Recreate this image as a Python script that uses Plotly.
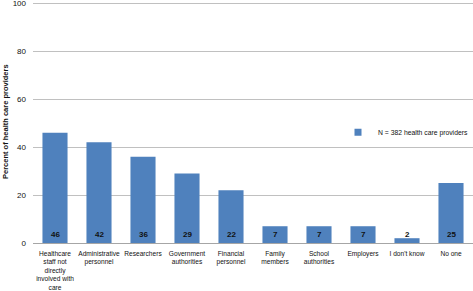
import plotly.graph_objects as go

categories = [
    "Healthcare<br>staff not<br>directly<br>involved with<br>care",
    "Administrative<br>personnel",
    "Researchers",
    "Government<br>authorities",
    "Financial<br>personnel",
    "Family<br>members",
    "School<br>authorities",
    "Employers",
    "I don't know",
    "No one",
]
values = [46, 42, 36, 29, 22, 7, 7, 7, 2, 25]
series_name = "N = 382 health care providers"
y_title = "Percent of health care providers"
y_ticks = [0, 20, 40, 60, 80, 100]

bar_color = "#4F81BD"
text_color = "#111111"
font_family = "Liberation Sans, Arial, sans-serif"

fig = go.Figure()
fig.add_trace(go.Bar(
    x=categories, y=values, name=series_name,
    marker=dict(color=bar_color, line=dict(width=0)),
    width=0.57, showlegend=False,
))
# legend entry (small square marker like the reference)
fig.add_trace(go.Scatter(
    x=[None], y=[None], mode="markers", name=series_name,
    marker=dict(symbol="square", size=7, color=bar_color),
    showlegend=True,
))

for c, v in zip(categories, values):
    fig.add_annotation(
        x=c, y=0, text=f"<b>{v}</b>", showarrow=False,
        yanchor="bottom", yshift=2,
        font=dict(size=8, color=text_color, family=font_family),
    )

# y-axis title as a rotated annotation placed at the far left
fig.add_annotation(
    xref="paper", yref="paper", x=0, y=0.5, xshift=-28,
    text=f"<b>{y_title}</b>", textangle=-90, showarrow=False,
    xanchor="center", yanchor="middle",
    font=dict(size=7.5, color=text_color, family=font_family),
)

fig.update_layout(
    width=473, height=291,
    margin=dict(l=33, r=0, t=1, b=48, autoexpand=False),
    paper_bgcolor="white", plot_bgcolor="white",
    font=dict(family=font_family, color=text_color),
    bargap=0.43,
    legend=dict(
        x=1.0, y=0.458, xanchor="right", yanchor="middle",
        font=dict(size=6.8, color=text_color),
        bgcolor="rgba(255,255,255,0)",
        itemwidth=30,
    ),
    yaxis=dict(
        range=[0, 101], tickvals=y_ticks,
        showgrid=True, gridcolor="#c0c0c0", gridwidth=1,
        zeroline=True, zerolinecolor="#a6a6a6", zerolinewidth=1,
        tickfont=dict(size=8, color=text_color),
        ticks="", ticklen=0, ticklabelstandoff=6,
        ticklabeloverflow="allow",
        automargin=False,
        fixedrange=True,
    ),
    xaxis=dict(
        tickfont=dict(size=6.6, color=text_color),
        showline=False, ticks="", tickangle=0,
        ticklabelstandoff=5,
        automargin=False,
        fixedrange=True,
    ),
)

fig.write_html(
    "out.html",
    config={"displayModeBar": False},
    post_script="document.body.style.margin='0';document.body.style.padding='0';",
)
